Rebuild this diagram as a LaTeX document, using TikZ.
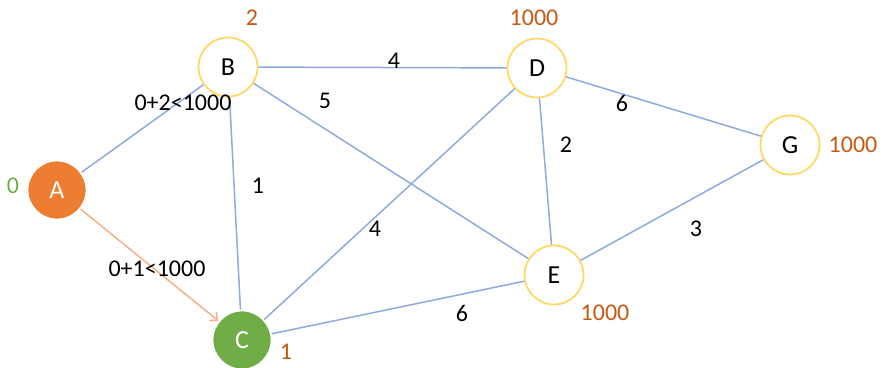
\documentclass[tikz,border=0pt]{standalone}
\usepackage{fontspec}
\setmainfont{Carlito}
\usetikzlibrary{arrows.meta}
\definecolor{ringyellow}{HTML}{FFD966}
\definecolor{edgeblue}{HTML}{8FAADC}
\definecolor{startorange}{HTML}{ED7D31}
\definecolor{pathorange}{HTML}{F4B183}
\definecolor{distorange}{HTML}{C65911}
\definecolor{donegreen}{HTML}{70AD47}
\tikzset{
  vertex/.style={circle, draw=ringyellow, line width=1.8pt, fill=white, minimum size=59pt, inner sep=0pt, font=\fontsize{26}{30}\selectfont},
  visited/.style={vertex, draw=white, text=white},
  edge/.style={draw=edgeblue, line width=1.5pt},
  weight/.style={font=\fontsize{24}{28}\selectfont},
  dist/.style={font=\fontsize{24}{28}\selectfont, text=distorange}
}
\begin{document}
\begin{tikzpicture}[x=1pt, y=-1pt]
            \useasboundingbox (0,0) rectangle (885,367);
            % vertices
            \node[visited, fill=startorange] (A) at (57,190) {A};
            \node[vertex] (B) at (228,67) {B};
            \node[visited, fill=donegreen] (C) at (242,340) {C};
            \node[vertex] (D) at (537,68) {D};
            \node[vertex] (E) at (554,275) {E};
            \node[vertex] (G) at (790,145) {G};
            % edges
            \draw[edge] (A) -- (B);
            \draw[edge] (B) -- (D);
            \draw[edge] (B) -- (C);
            \draw[edge] (B) -- (E);
            \draw[edge] (D) -- (C);
            \draw[edge] (D) -- (E);
            \draw[edge] (D) -- (G);
            \draw[edge] (E) -- (C);
            \draw[edge] (E) -- (G);
            \draw[-{Straight Barb[length=6pt,width=11pt]}, draw=pathorange, line width=1.5pt] (A) -- (C);
            % weights
            \node[weight] (wBD) at (394,61) {4};
            \node[weight] (wAB) at (183,103) {0+2<1000};
            \node[weight] (wBE) at (325,101) {5};
            \node[weight] (wDG) at (622,103) {6};
            \node[weight] (wDE) at (566,145) {2};
            \node[weight] (wBC) at (258,186) {1};
            \node[weight] (wDC) at (375,229) {4};
            \node[weight] (wEG) at (696,229) {3};
            \node[weight] (wAC) at (157,269) {0+1<1000};
            \node[weight] (wEC) at (462,313) {6};
            % distances
            \node[dist, text=donegreen] (dA) at (13,186) {0};
            \node[dist] (dB) at (252,18) {2};
            \node[dist] (dC) at (286,352) {1};
            \node[dist] (dD) at (534,18) {1000};
            \node[dist] (dE) at (605,313) {1000};
            \node[dist] (dG) at (853,145) {1000};
        \end{tikzpicture}
\end{document}
